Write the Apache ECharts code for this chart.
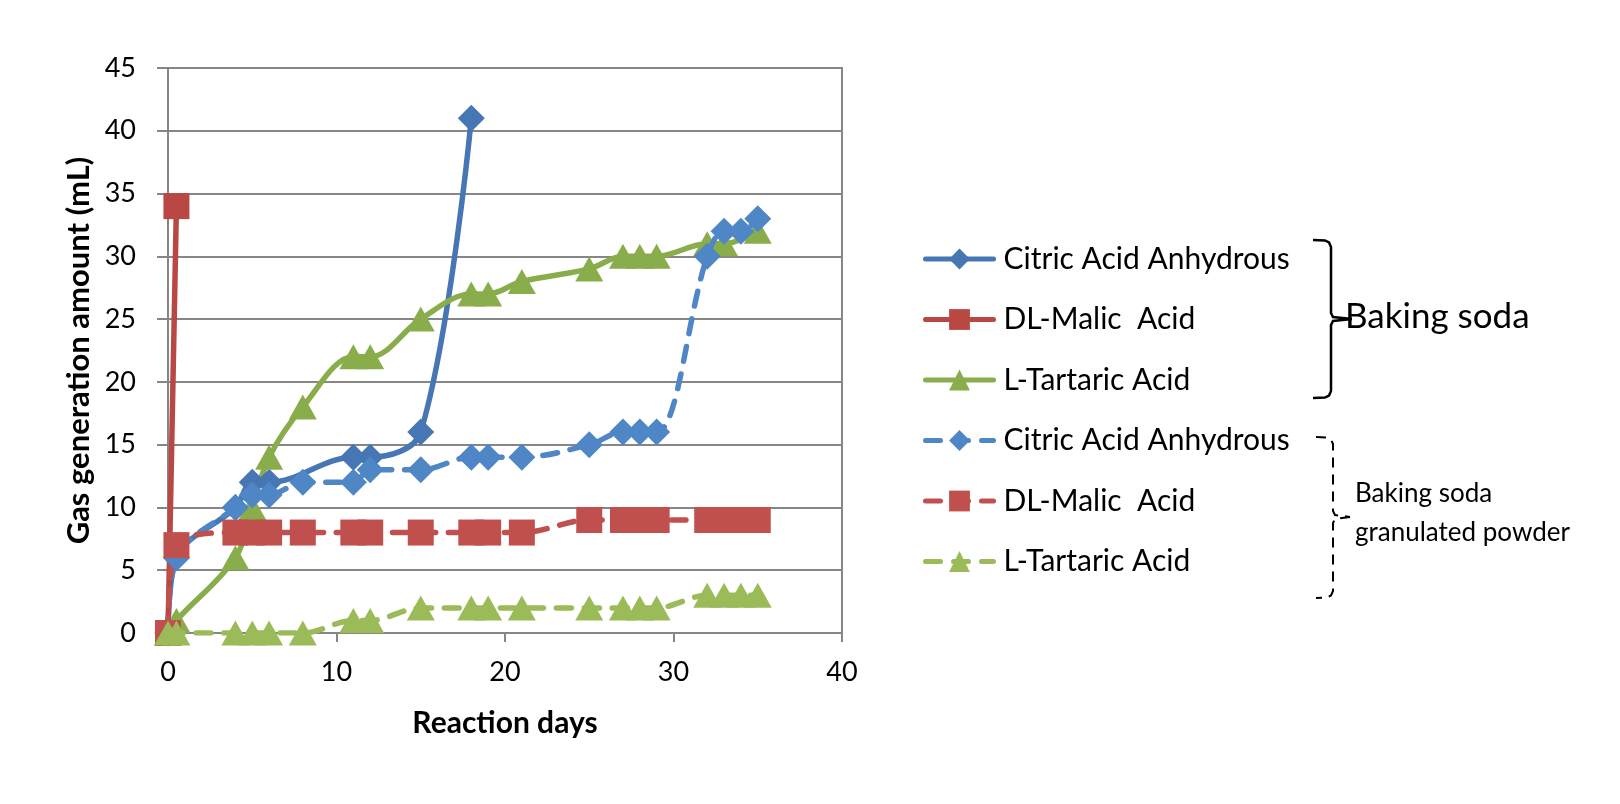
<!DOCTYPE html>
<html>
<head>
<meta charset="utf-8">
<script src="https://cdn.jsdelivr.net/npm/echarts@6/dist/echarts.min.js"></script>
<style>
html,body{margin:0;padding:0;background:#fff;}
#c{width:1620px;height:804px;}
</style>
</head>
<body>
<div id="c"></div>
<script>
// ---- data ----
const xTicks = [0, 10, 20, 30, 40];
const yTicks = [0, 5, 10, 15, 20, 25, 30, 35, 40, 45];

const citricSodaX = [0, 0.5, 4, 5, 6, 11, 12, 15, 18];
const citricSodaY = [0, 6, 10, 12, 12, 14, 14, 16, 41];

const malicSodaX = [0, 0.5];
const malicSodaY = [0, 34];

const tartaricSodaX = [0, 0.5, 4, 5, 6, 8, 11, 12, 15, 18, 19, 21, 25, 27, 28, 29, 32, 33, 35];
const tartaricSodaY = [0, 1, 6, 10, 14, 18, 22, 22, 25, 27, 27, 28, 29, 30, 30, 30, 31, 31, 32];

const citricGranX = [0, 0.5, 4, 5, 6, 8, 11, 12, 15, 18, 19, 21, 25, 27, 28, 29, 32, 33, 34, 35];
const citricGranY = [0, 6, 10, 11, 11, 12, 12, 13, 13, 14, 14, 14, 15, 16, 16, 16, 30, 32, 32, 33];

const malicGranX = [0, 0.5, 4, 5, 6, 8, 11, 12, 15, 18, 19, 21, 25, 27, 28, 29, 32, 33, 34, 35];
const malicGranY = [0, 7, 8, 8, 8, 8, 8, 8, 8, 8, 8, 8, 9, 9, 9, 9, 9, 9, 9, 9];

const tartaricGranX = [0, 0.5, 4, 5, 6, 8, 11, 12, 15, 18, 19, 21, 25, 27, 28, 29, 32, 33, 34, 35];
const tartaricGranY = [0, 0, 0, 0, 0, 0, 1, 1, 2, 2, 2, 2, 2, 2, 2, 2, 3, 3, 3, 3];

const names = ['Citric Acid Anhydrous', 'DL-Malic  Acid', 'L-Tartaric Acid'];
const xName = 'Reaction days';
const yName = 'Gas generation amount (mL)';
const groupLabel1 = 'Baking soda';
const groupLabel2a = 'Baking soda';
const groupLabel2b = 'granulated powder';

function pairs(xs, ys) { return xs.map((x, i) => [x, ys[i]]); }

const FONT = 'Lato, "Open Sans", sans-serif';
const GRID = '#868686';

function mk(name, xs, ys, color, symbol, size, dashed, z) {
  return {
    name: name,
    type: 'line',
    data: pairs(xs, ys),
    smooth: 0.35,
    symbol: symbol,
    symbolSize: size,
    showSymbol: true,
    z: z,
    itemStyle: { color: color, opacity: 1 },
    lineStyle: dashed
      ? { color: color, width: 5.5, type: [15, 13], cap: 'round' }
      : { color: color, width: 5.5, cap: 'round' },
    emphasis: { disabled: true },
    animation: false
  };
}

function bracket(x, top, mid, bottom, tipX, hookX, dashed) {
  const st = dashed
    ? { fill: null, stroke: '#000', lineWidth: 2, lineDash: [10, 7] }
    : { fill: null, stroke: '#000', lineWidth: 2.5 };
  return [
    { type: 'polyline', silent: true,
      shape: { points: [[hookX, top], [x - 6, top + 0.5], [x - 2, top + 2.5], [x, top + 7], [x, mid - 6], [x + 2, mid - 2], [tipX, mid]] },
      style: st },
    { type: 'polyline', silent: true,
      shape: { points: [[tipX, mid], [x + 2, mid + 2], [x, mid + 6], [x, bottom - 7], [x - 2, bottom - 2.5], [x - 6, bottom - 0.5], [hookX, bottom]] },
      style: st }
  ];
}

const chart = echarts.init(document.getElementById('c'), null, { renderer: 'canvas' });

const option = {
  backgroundColor: '#ffffff',
  animation: false,
  grid: {
    left: 168, right: 778, top: 68, bottom: 171,
    show: true, borderColor: GRID, borderWidth: 2, backgroundColor: 'transparent'
  },
  xAxis: {
    type: 'value',
    min: xTicks[0], max: xTicks[xTicks.length - 1], interval: 10,
    name: xName,
    nameLocation: 'middle',
    nameGap: 75,
    nameTextStyle: { fontFamily: FONT, fontSize: 30, fontWeight: 'bold', color: '#000' },
    axisLine: { show: true, lineStyle: { color: GRID, width: 2 } },
    axisTick: { show: true, length: 9, lineStyle: { color: GRID, width: 2 } },
    axisLabel: { fontFamily: FONT, fontSize: 27, color: '#000', margin: 26 },
    splitLine: { show: false }
  },
  yAxis: {
    type: 'value',
    min: yTicks[0], max: yTicks[yTicks.length - 1], interval: 5,
    name: yName,
    nameLocation: 'middle',
    nameGap: 74,
    nameRotate: 90,
    nameTextStyle: { fontFamily: FONT, fontSize: 31, fontWeight: 'bold', color: '#000' },
    axisLine: { show: true, lineStyle: { color: GRID, width: 2 } },
    axisTick: { show: true, length: 11, lineStyle: { color: GRID, width: 2 } },
    axisLabel: { fontFamily: FONT, fontSize: 27, color: '#000', margin: 32 },
    splitLine: { show: true, lineStyle: { color: GRID, width: 2 } }
  },
  legend: {
    orient: 'vertical',
    left: 918,
    top: 238,
    itemWidth: 68,
    itemHeight: 26,
    itemGap: 28.5,
    selectedMode: false,
    lineStyle: { width: 5 },
    textStyle: { fontFamily: FONT, fontSize: 30, color: '#000', lineHeight: 32, padding: [0, 0, 0, 5] },
    data: [names[0], names[1], names[2], names[0] + ' ', names[1] + ' ', names[2] + ' ']
  },
  series: [
    mk(names[0], citricSodaX, citricSodaY, '#4676B4', 'diamond', 27, false, 3),
    mk(names[1], malicSodaX, malicSodaY, '#B94743', 'rect', 26, false, 3),
    mk(names[2], tartaricSodaX, tartaricSodaY, '#8AAD4C', 'triangle', [28, 25], false, 3),
    mk(names[0] + ' ', citricGranX, citricGranY, '#4F86C6', 'diamond', 27, true, 4),
    mk(names[1] + ' ', malicGranX, malicGranY, '#C0504D', 'rect', 26, true, 4),
    mk(names[2] + ' ', tartaricGranX, tartaricGranY, '#9BBB59', 'triangle', [28, 25], true, 4)
  ],
  graphic: [].concat(
    bracket(1331, 240, 319, 398, 1352, 1313, false),
    bracket(1333, 437, 517, 598, 1350, 1316, true),
    [
      { type: 'text', left: 1345, top: 299,
        style: { text: groupLabel1, font: '35px Lato, sans-serif', fill: '#000' } },
      { type: 'text', left: 1355, top: 481,
        style: { text: groupLabel2a, font: '26px Lato, sans-serif', fill: '#000' } },
      { type: 'text', left: 1355, top: 520,
        style: { text: groupLabel2b, font: '26px Lato, sans-serif', fill: '#000' } }
    ]
  )
};

chart.setOption(option);
</script>
</body>
</html>
